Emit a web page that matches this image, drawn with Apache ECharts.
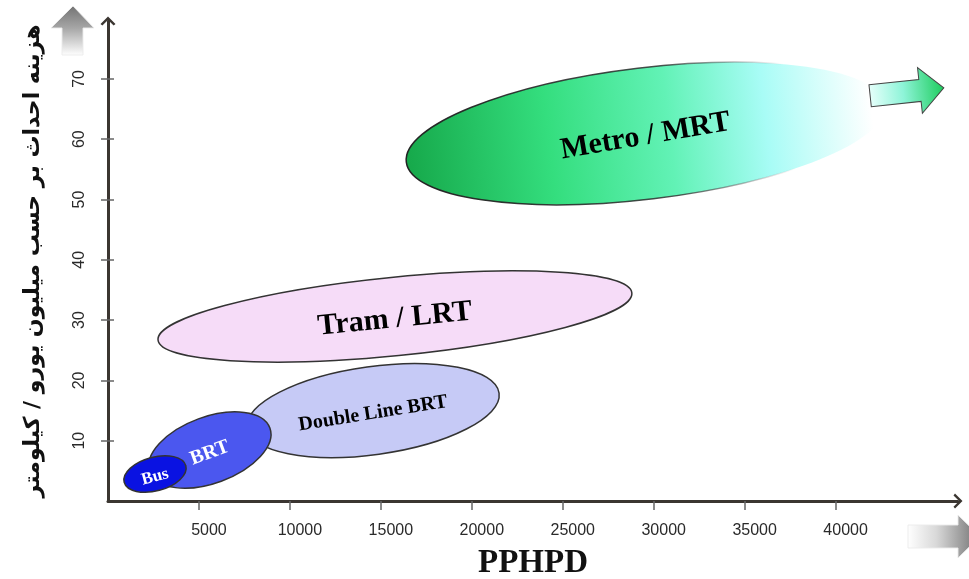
<!DOCTYPE html>
<html>
<head>
<meta charset="utf-8">
<script src="https://cdn.jsdelivr.net/npm/echarts@6/dist/echarts.min.js"></script>
<style>html,body{margin:0;padding:0;background:#fff}#c{width:969px;height:579px}</style>
</head>
<body>
<div id="c"></div>
<script>
// ---- data ----
const categories = ['Metro / MRT', 'Tram / LRT', 'Double Line BRT', 'BRT', 'Bus'];
const startX = [16400, 2750, 7640, 2300, 890];      // PPHPD at left tip
const startY = [56.2, 26.7, 12.1, 4.8, 3.1];        // cost at left tip
const endX   = [42700, 28800, 21500, 8900, 4280];   // PPHPD at right tip
const endY   = [65.7, 34.5, 17.9, 12.1, 5.85];      // cost at right tip
const halfSpread = [10.9, 6.5, 7.3, 5.5, 2.8];      // half width (cost units)
const arrowFrom = [41900, 67.2];
const arrowTo = [45950, 68.5];
const xTickValues = [5000, 10000, 15000, 20000, 25000, 30000, 35000, 40000];
const yTickValues = [10, 20, 30, 40, 50, 60, 70];
const xTitle = 'PPHPD';
const yTitle = 'هزینه احداث بر حسب میلیون یورو / کیلومتر';

// ---- styles ----
const fills = [
  {type: 'linear', x: 0, y: 0, x2: 1, y2: 0, colorStops: [
    {offset: 0, color: '#16a84a'}, {offset: 0.3, color: '#34de7e'},
    {offset: 0.55, color: '#62f2b6'}, {offset: 0.75, color: '#a8fcf6'},
    {offset: 0.97, color: '#ffffff'}]},
  '#f6dcf8', '#c6caf6', '#4b57ef', '#0a12e2'
];
const strokes = [
  {type: 'linear', x: 0, y: 0, x2: 1, y2: 0, colorStops: [
    {offset: 0, color: '#222'}, {offset: 0.55, color: 'rgba(40,40,40,0.8)'},
    {offset: 0.8, color: 'rgba(40,40,40,0)'}, {offset: 1, color: 'rgba(40,40,40,0)'}]},
  '#333', '#333', '#333', '#333'
];
const labelSize = [30, 30, 20, 20, 17];
const labelColor = ['#000', '#000', '#000', '#fff', '#fff'];
const labelTilt = [0.05, 0, 0.02, 0, 0];   // extra text tilt (radians)

const ellipseData = categories.map((c, i) => [startX[i], startY[i], endX[i], endY[i], halfSpread[i], i]);

const chevron = 'path://M10,0 L20,10 L17.5,12 L10,4.5 L2.5,12 L0,10 Z';

const chart = echarts.init(document.getElementById('c'), null, {renderer: 'canvas'});
chart.setOption({
  animation: false,
  backgroundColor: '#fff',
  grid: {left: 108, right: 11, top: 21, bottom: 78, containLabel: false, outerBoundsMode: 'none'},
  xAxis: {
    type: 'value', min: 0, max: 46730,
    axisLine: {show: true, lineStyle: {color: '#3b3631', width: 3}, symbol: ['none', chevron], symbolSize: [15, 12]},
    axisTick: {show: true, customValues: xTickValues, length: 9, lineStyle: {color: '#666', width: 1.5}},
    axisLabel: {customValues: xTickValues, formatter: v => String(v), margin: 22, fontSize: 16, color: '#2a2a2a', fontFamily: 'Liberation Sans', padding: [0, 0, 0, 20]},
    splitLine: {show: false},
    name: xTitle, nameLocation: 'middle', nameGap: 46,
    nameTextStyle: {fontFamily: 'Liberation Serif', fontWeight: 'bold', fontSize: 33, color: '#111'}
  },
  yAxis: [{
    type: 'value', min: 0, max: 79.6, position: 'left',
    axisLine: {show: true, lineStyle: {color: '#3b3631', width: 3}, symbol: ['none', chevron], symbolSize: [15, 12]},
    axisTick: {show: true, customValues: yTickValues, length: 7, lineStyle: {color: '#666', width: 1.5}},
    axisLabel: {customValues: yTickValues, formatter: v => String(v), rotate: 90, margin: 20, fontSize: 16, color: '#2a2a2a', fontFamily: 'Liberation Sans'},
    splitLine: {show: false},
    name: yTitle, nameLocation: 'middle', nameGap: 64, nameRotate: 90,
    nameTextStyle: {fontFamily: 'DejaVu Sans', fontWeight: 'bold', fontSize: 22, color: '#111'}
  }, {
    type: 'value', min: 0, max: 79.6, position: 'left', offset: 0,
    axisLine: {show: false},
    axisTick: {show: true, inside: true, customValues: yTickValues, length: 6, lineStyle: {color: '#666', width: 1.5}},
    axisLabel: {show: false}, splitLine: {show: false}
  }],
  series: [{
    type: 'custom',
    clip: false,
    data: ellipseData,
    renderItem: function (params, api) {
      const i = api.value(5);
      const p1 = api.coord([api.value(0), api.value(1)]);
      const p2 = api.coord([api.value(2), api.value(3)]);
      const b = api.size([0, api.value(4)])[1];
      const cx = (p1[0] + p2[0]) / 2, cy = (p1[1] + p2[1]) / 2;
      const dx = p2[0] - p1[0], dy = p2[1] - p1[1];
      const a = Math.hypot(dx, dy) / 2;
      const rot = -Math.atan2(dy, dx);
      return {
        type: 'group',
        children: [{
          type: 'ellipse', x: cx, y: cy, rotation: rot,
          shape: {cx: 0, cy: 0, rx: a, ry: b},
          style: {fill: fills[i], stroke: strokes[i], lineWidth: 1.5}
        }, {
          type: 'text', x: cx, y: cy + 3, rotation: rot + labelTilt[i],
          style: {text: categories[i], fill: labelColor[i], fontSize: labelSize[i], fontWeight: 'bold',
            fontFamily: 'Liberation Serif', align: 'center', verticalAlign: 'middle'}
        }]
      };
    }
  }, {
    type: 'custom',
    clip: false,
    data: [[arrowFrom[0], arrowFrom[1], arrowTo[0], arrowTo[1]]],
    renderItem: function (params, api) {
      const p1 = api.coord([api.value(0), api.value(1)]);
      const p2 = api.coord([api.value(2), api.value(3)]);
      const dx = p2[0] - p1[0], dy = p2[1] - p1[1];
      const L = Math.hypot(dx, dy);
      const rot = -Math.atan2(dy, dx);
      const hl = 24, sh = 11, hh = 23;
      return {
        type: 'polygon', x: p1[0], y: p1[1], rotation: rot,
        shape: {points: [[0, -sh], [L - hl, -sh], [L - hl, -hh], [L, 0], [L - hl, hh], [L - hl, sh], [0, sh]]},
        style: {
          fill: {type: 'linear', x: 0, y: 0, x2: 1, y2: 0, colorStops: [
            {offset: 0, color: '#e6fffb'}, {offset: 0.45, color: '#8ef4d8'}, {offset: 1, color: '#1ccc5c'}]},
          stroke: '#444', lineWidth: 1
        }
      };
    }
  }],
  graphic: [{
    type: 'polygon',
    shape: {points: [[73, 6], [94, 28], [83, 28], [83, 55], [62, 55], [62, 28], [51, 28]]},
    style: {
      fill: {type: 'linear', x: 0, y: 0, x2: 0, y2: 1, colorStops: [
        {offset: 0, color: '#727272'}, {offset: 0.45, color: '#a6a6a6'}, {offset: 1, color: '#ffffff'}]},
      stroke: 'rgba(235,235,235,0.9)', lineWidth: 1
    }
  }, {
    type: 'polygon',
    shape: {points: [[908, 525], [958, 525], [958, 515], [980, 536.5], [958, 558], [958, 548], [908, 548]]},
    style: {
      fill: {type: 'linear', x: 0, y: 0, x2: 1, y2: 0, colorStops: [
        {offset: 0, color: '#ffffff'}, {offset: 0.4, color: '#d8d8d8'}, {offset: 1, color: '#6e6e6e'}]},
      stroke: 'rgba(235,235,235,0.9)', lineWidth: 1
    }
  }]
});
</script>
</body>
</html>
